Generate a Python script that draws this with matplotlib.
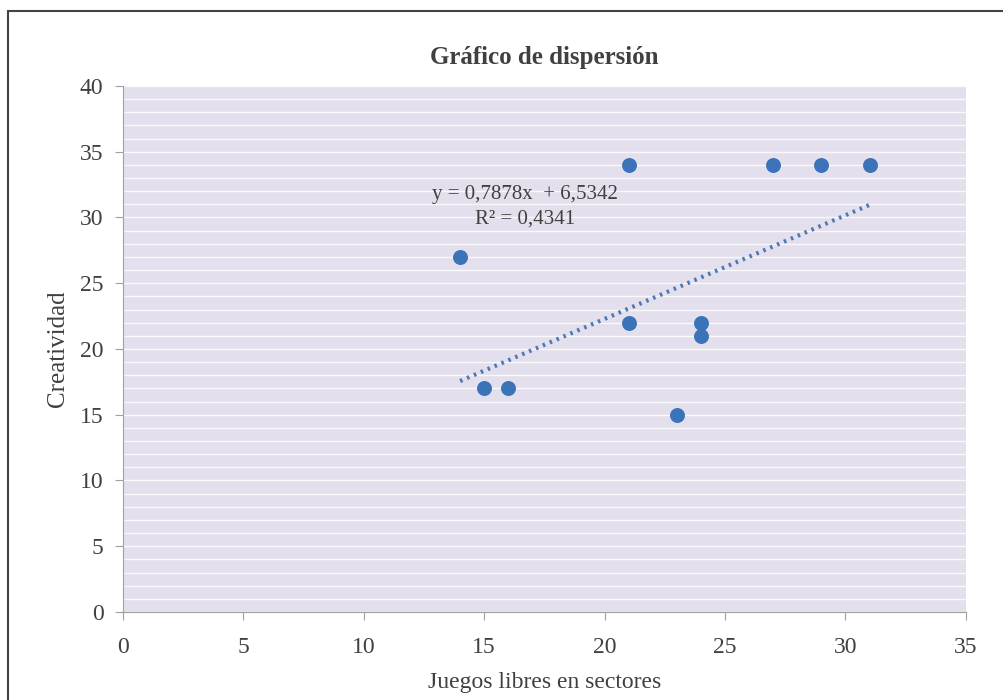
import matplotlib.pyplot as plt
import numpy as np
from matplotlib.patches import Rectangle

# data
juegos = [14, 15, 16, 21, 21, 23, 24, 24, 27, 29, 31]
creatividad = [27, 17, 17, 34, 22, 15, 22, 21, 34, 34, 34]
slope, intercept = 0.7878, 6.5342
r2 = 0.4341

plt.rcParams['font.family'] = ['Liberation Serif', 'DejaVu Serif']

fig = plt.figure(figsize=(10.04, 7.0), dpi=100)
ax = fig.add_axes([0.1225, 0.1257, 0.8395, 0.7515])

# outer frame of the chart
fig.patches.append(Rectangle((0.008, -0.05), 1.1, 1.035, transform=fig.transFigure,
                             fill=False, edgecolor='#444444', linewidth=1.5))

ax.set_facecolor('#e4dfec')
ax.set_xlim(0, 35)
ax.set_ylim(0, 40)
ax.set_xticks(np.arange(0, 36, 5))
ax.set_yticks(np.arange(0, 41, 5))
ax.set_yticks(np.arange(0, 41, 1), minor=True)
ax.grid(which='both', axis='y', color='white', linewidth=1.0, alpha=0.8)
ax.set_axisbelow(True)

for s in ['top', 'right']:
    ax.spines[s].set_visible(False)
for s in ['left', 'bottom']:
    ax.spines[s].set_color('#a0a0a0')
ax.tick_params(which='major', length=6, color='#a0a0a0', labelsize=17, labelcolor='#404040')
ax.tick_params(axis='x', pad=12)
ax.tick_params(axis='y', pad=8)
ax.tick_params(which='minor', length=0)

ax.scatter(juegos, creatividad, s=95, color='#3b73b9', zorder=3)

xs = np.array([min(juegos), max(juegos)])
ax.plot(xs, slope * xs + intercept, linestyle=(0, (0.6, 1.2)), linewidth=3,
        color='#4a78b8', zorder=2)

ax.text(16.7, 31.75, 'y = 0,7878x  + 6,5342', ha='center', va='center',
        fontsize=15, color='#404040')
ax.text(16.7, 29.85, 'R² = 0,4341', ha='center', va='center',
        fontsize=15, color='#404040')

ax.set_title('Gráfico de dispersión', fontsize=18, fontweight='bold',
             color='#404040', pad=16)
ax.set_xlabel('Juegos libres en sectores', fontsize=17, color='#404040', labelpad=10)
ax.set_ylabel('Creatividad', fontsize=18, color='#404040', labelpad=8)

fig.savefig('out.png', dpi=100)
